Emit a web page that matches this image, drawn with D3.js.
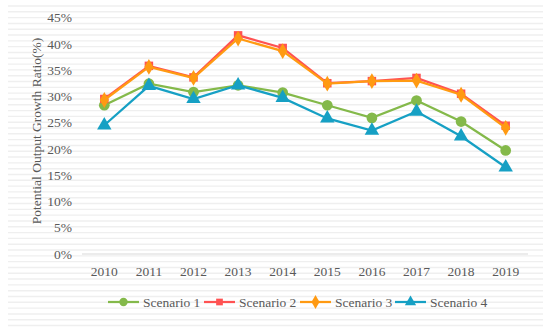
<!DOCTYPE html>
<html>
<head>
<meta charset="utf-8">
<script src="https://cdn.jsdelivr.net/npm/d3@7"></script>
<style>
  body { margin: 0; background: #fff; }
</style>
</head>
<body>
<svg id="chart" width="550" height="329"></svg>
<script>
const years = ['2010', '2011', '2012', '2013', '2014', '2015', '2016', '2017', '2018', '2019'];
const scenario1 = [28.3, 32.4, 30.8, 32.1, 30.7, 28.3, 25.9, 29.2, 25.2, 19.7];
const scenario2 = [29.5, 35.8, 33.6, 41.6, 39.2, 32.5, 32.9, 33.5, 30.5, 24.4];
const scenario3 = [29.3, 35.6, 33.5, 41.0, 38.6, 32.4, 32.9, 33.0, 30.3, 24.0];
const scenario4 = [24.5, 32.0, 29.5, 32.1, 29.7, 25.8, 23.5, 27.1, 22.4, 16.5];
const yTicks = [0, 5, 10, 15, 20, 25, 30, 35, 40, 45];
const seriesNames = ['Scenario 1', 'Scenario 2', 'Scenario 3', 'Scenario 4'];

const FONT = 'Liberation Serif, DejaVu Serif, serif';

const series = [
  { name: seriesNames[0], values: scenario1, color: '#84b94a', marker: d3.symbolCircle },
  { name: seriesNames[1], values: scenario2, color: '#ff5252', marker: d3.symbolSquare },
  { name: seriesNames[2], values: scenario3, color: '#ff9a12', marker: d3.symbolDiamond },
  { name: seriesNames[3], values: scenario4, color: '#16a0c4', marker: d3.symbolTriangle }
];

const svg = d3.select('#chart');

// faint scan stripes in the background
const stripes = d3.range(6, 326, 5.81);
svg.append('g')
  .selectAll('line')
  .data(stripes)
  .enter()
  .append('line')
  .attr('x1', 8)
  .attr('x2', 543)
  .attr('y1', d => d)
  .attr('y2', d => d)
  .attr('stroke', '#efefef')
  .attr('stroke-width', 1.4);

const x = d3.scalePoint().domain(years).range([82, 528]).padding(0.5);
const y = d3.scaleLinear().domain([0, 45]).range([254, 17.5]);

// x axis line
svg.append('line')
  .attr('x1', 82)
  .attr('x2', 528)
  .attr('y1', y(0))
  .attr('y2', y(0))
  .attr('stroke', '#d9d9d9')
  .attr('stroke-width', 1);

svg.append('g')
  .selectAll('text')
  .data(yTicks)
  .enter()
  .append('text')
  .attr('x', 72)
  .attr('y', d => y(d))
  .attr('dy', '0.35em')
  .attr('text-anchor', 'end')
  .attr('font-family', FONT)
  .attr('fill', '#595959')
  .attr('font-size', 13.5)
  .text(d => d + '%');

svg.append('g')
  .selectAll('text')
  .data(years)
  .enter()
  .append('text')
  .attr('x', d => x(d))
  .attr('y', 271)
  .attr('dy', '0.35em')
  .attr('text-anchor', 'middle')
  .attr('font-family', FONT)
  .attr('fill', '#595959')
  .attr('font-size', 13.5)
  .text(d => d);

svg.append('text')
  .attr('transform', 'translate(36,131) rotate(-90)')
  .attr('text-anchor', 'middle')
  .attr('font-family', FONT)
  .attr('fill', '#595959')
  .attr('dy', '0.35em')
  .attr('font-size', 13.5)
  .text('Potential Output Growth Ratio(%)');

const line = d3.line()
  .x((d, i) => x(years[i]))
  .y(d => y(d));

series.forEach(s => {
  const g = svg.append('g');
  g.append('path')
    .datum(s.values)
    .attr('d', line)
    .attr('fill', 'none')
    .attr('stroke', s.color)
    .attr('stroke-width', 2.25);
  const size = s.marker === d3.symbolCircle ? 90 : s.marker === d3.symbolTriangle ? 90 : 72;
  g.selectAll('path.pt')
    .data(s.values)
    .enter()
    .append('path')
    .attr('class', 'pt')
    .attr('d', d3.symbol().type(s.marker).size(size)())
    .attr('transform', (d, i) => 'translate(' + x(years[i]) + ',' + y(d) + ')')
    .attr('fill', s.color);
});

// legend
const legendX = [108, 204, 300, 395];
const legend = svg.append('g');
series.forEach((s, i) => {
  const lg = legend.append('g').attr('transform', 'translate(' + legendX[i] + ',302)');
  lg.append('line')
    .attr('x1', 0)
    .attr('x2', 31)
    .attr('stroke', s.color)
    .attr('stroke-width', 2.25);
  lg.append('path')
    .attr('d', d3.symbol().type(s.marker).size(s.marker === d3.symbolSquare ? 45 : 55)())
    .attr('transform', 'translate(15.5,0)')
    .attr('fill', s.color);
  lg.append('text')
    .attr('x', 35)
    .attr('dy', '0.35em')
    .attr('font-family', FONT)
    .attr('fill', '#595959')
    .attr('font-size', 13.5)
    .text(s.name);
});
</script>
</body>
</html>
